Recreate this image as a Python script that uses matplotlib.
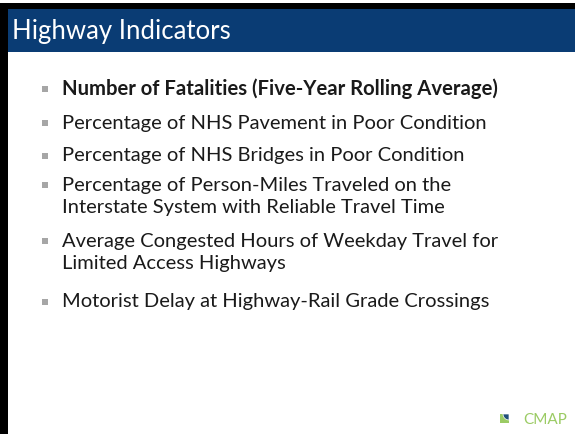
import matplotlib
matplotlib.use("Agg")
import matplotlib.pyplot as plt
from matplotlib.patches import Rectangle, Wedge

title = "Highway Indicators"
bullets = [
    ["Number of Fatalities (Five-Year Rolling Average)"],
    ["Percentage of NHS Pavement in Poor Condition"],
    ["Percentage of NHS Bridges in Poor Condition"],
    ["Percentage of Person-Miles Traveled on the", "Interstate System with Reliable Travel Time"],
    ["Average Congested Hours of Weekday Travel for", "Limited Access Highways"],
    ["Motorist Delay at Highway-Rail Grade Crossings"],
]
bold_flags = [True, False, False, False, False, False]
logo_text = "CMAP"

W, H = 575, 434
fig = plt.figure(figsize=(W / 100, H / 100), dpi=100)
ax = fig.add_axes([0, 0, 1, 1])
ax.set_xlim(0, W)
ax.set_ylim(H, 0)
ax.axis("off")

FONT = "Lato"
BLUE = "#0A3C74"
GREEN = "#9BCB64"

# black frame (left and top)
ax.add_patch(Rectangle((0, 3), 7.5, H - 3, color="black", lw=0))
ax.add_patch(Rectangle((0, 3), W, 6, color="black", lw=0))
# title bar
ax.add_patch(Rectangle((7.5, 9), W - 7.5, 42.5, color=BLUE, lw=0))
ax.text(12, 31, title, color="white", fontsize=18.5, family=FONT,
        va="center", ha="left")

# bullets
para_tops = [89, 123, 156, 185, 241, 302]
line_gap = 23
for top, lines, b in zip(para_tops, bullets, bold_flags):
    ax.add_patch(Rectangle((42, top - 3), 6, 6, color="#A6A6A6", lw=0))
    for i, ln in enumerate(lines):
        ax.text(62, top + i * line_gap, ln, color="#1A1A1A",
                fontsize=14.6 if b else 14.5,
                family=FONT, fontweight="bold" if b else "normal",
                va="center", ha="left")

# logo
ax.add_patch(Rectangle((500, 414), 9, 9, color=GREEN, lw=0))
ax.add_patch(Wedge((509, 414), 6, 90, 180, facecolor="#1F4E79",
                   edgecolor="white", lw=0.5))
ax.text(523, 420.5, logo_text, color=GREEN, fontsize=11, family=FONT,
        va="center", ha="left")

fig.savefig("out.png", dpi=100)
